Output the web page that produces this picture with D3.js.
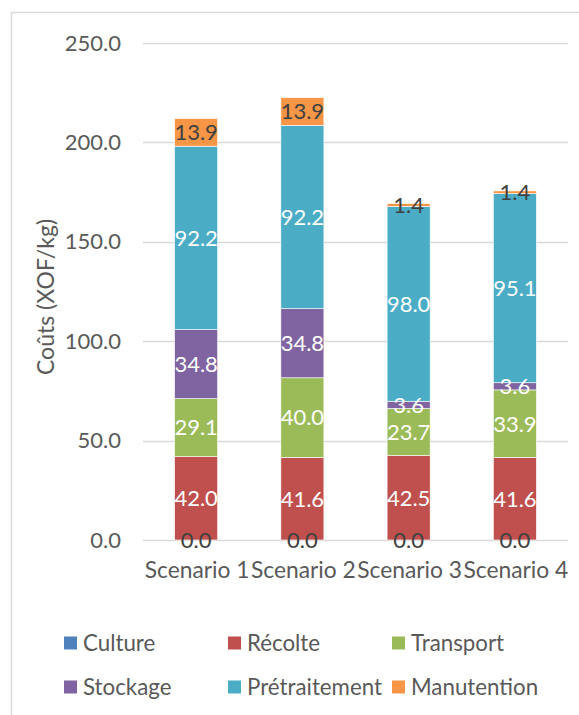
<!DOCTYPE html>
<html><head><meta charset="utf-8">
<script src="https://cdn.jsdelivr.net/npm/d3@7"></script>
<style>body{margin:0;background:#fff}svg{display:block}text{font-family:Lato,"Open Sans",sans-serif}</style>
</head><body>
<svg id="c" width="579" height="715"></svg>
<script>
const scenarios = ["Scenario 1","Scenario 2","Scenario 3","Scenario 4"];
const seriesNames = ["Culture","Récolte","Transport","Stockage","Prétraitement","Manutention"];
const colors = ["#4F81BD","#C0504D","#9BBB59","#8064A2","#4BACC6","#F79646"];
const culture = [0.0,0.0,0.0,0.0];
const recolte = [42.0,41.6,42.5,41.6];
const transport = [29.1,40.0,23.7,33.9];
const stockage = [34.8,34.8,3.6,3.6];
const pretraitement = [92.2,92.2,98.0,95.1];
const manutention = [13.9,13.9,1.4,1.4];
const yTicks = [0,50,100,150,200,250];

const values = [culture,recolte,transport,stockage,pretraitement,manutention];
const svg = d3.select("#c");
const grey = "#595959";
const FS = "22px";

svg.append("rect").attr("x",11.5).attr("y",12.5).attr("width",620).attr("height",720)
  .attr("fill","none").attr("stroke","#D9D9D9").attr("stroke-width",1.5);

const x = d3.scaleBand().domain(scenarios).range([143,568]).paddingInner(0.595).paddingOuter(0.2975);
const y = d3.scaleLinear().domain([0,250]).range([540,43]);

// gridlines
svg.append("g").selectAll("line").data(yTicks).join("line")
  .attr("x1",143).attr("x2",568).attr("y1",d=>Math.round(y(d))+0.5).attr("y2",d=>Math.round(y(d))+0.5)
  .attr("stroke","#D9D9D9").attr("stroke-width",1.5);

// y axis labels
const ya = svg.append("g").attr("transform","translate(121,0)")
  .call(d3.axisLeft(y).tickValues(yTicks).tickFormat(d3.format(".1f")).tickSize(0).tickPadding(0));
ya.select(".domain").remove();
ya.selectAll("text").attr("fill",grey).style("font-size",FS).style("font-family","Lato,'Open Sans',sans-serif");

svg.append("text").attr("transform","translate(54,297) rotate(-90)").attr("text-anchor","middle")
  .attr("fill",grey).style("font-size","23px").text("Coûts (XOF/kg)");

// x axis labels
const xa = svg.append("g").attr("transform","translate(1,578)")
  .call(d3.axisBottom(x).tickSize(0).tickPadding(0));
xa.select(".domain").remove();
xa.selectAll("text").attr("dy","0").attr("fill",grey).style("font-size","22.8px").style("font-family","Lato,'Open Sans',sans-serif");

// stack
const table = scenarios.map((s,i)=>{const o={scenario:s}; seriesNames.forEach((n,k)=>o[n]=values[k][i]); return o;});
const stacked = d3.stack().keys(seriesNames)(table);

const g = svg.append("g");
stacked.forEach((layer,k)=>{
  g.selectAll(null).data(layer).join("rect")
    .attr("x",d=>x(d.data.scenario)).attr("width",x.bandwidth())
    .attr("y",d=>y(d[1])).attr("height",d=>y(d[0])-y(d[1]))
    .attr("fill",colors[k]).attr("stroke","#fff").attr("stroke-width",0.6);
});
const lg = svg.append("g");
stacked.forEach((layer,k)=>{
  lg.selectAll(null).data(layer).join("text")
    .attr("x",d=>x(d.data.scenario)+x.bandwidth()/2)
    .attr("y",d=>(y(d[0])+y(d[1]))/2)
    .attr("dy","0.36em").attr("text-anchor","middle")
    .attr("fill",(k===0||k===5)?"#404040":"#fff")
    .style("font-size",FS)
    .text(d=>d3.format(".1f")(d[1]-d[0]));
});

// legend
const legCols=[64,228,392], legRows=[643,687];
const leg = svg.append("g");
seriesNames.forEach((n,k)=>{
  const cx=legCols[k%3], cy=legRows[Math.floor(k/3)];
  leg.append("rect").attr("x",cx).attr("y",cy-6.5).attr("width",13).attr("height",13).attr("fill",colors[k]);
  leg.append("text").attr("x",cx+19).attr("y",cy).attr("dy","0.36em").attr("fill",grey)
    .style("font-size","22.3px").text(n);
});
</script></body></html>
